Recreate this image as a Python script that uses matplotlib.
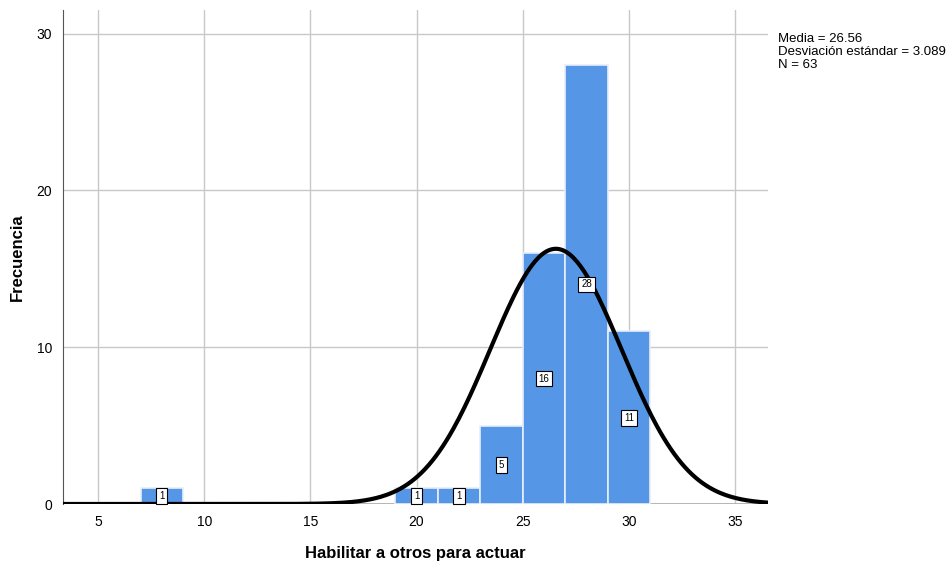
import numpy as np
import matplotlib.pyplot as plt

plt.rcParams['font.family'] = ['Liberation Sans', 'DejaVu Sans']

# histogram bins (left edge) and counts
bin_left = [7, 19, 21, 23, 25, 27, 29]
counts = [1, 1, 1, 5, 16, 28, 11]
bin_width = 2
media = 26.56
desv = 3.089
n_total = 63

fig = plt.figure(figsize=(9.5, 5.66), dpi=100)
ax = fig.add_axes([63 / 950, 1 - 504 / 566, (768 - 63) / 950, (504 - 10) / 566])

ax.set_xlim(3.35, 36.55)
ax.set_ylim(0, 31.5)

ax.grid(True, color='#c8c8c8', linewidth=1)
ax.set_axisbelow(True)
ax.axhline(0, color='#b0b0b0', linewidth=2, zorder=1)

ax.bar(bin_left, counts, width=bin_width, align='edge', color='#5596e6',
       edgecolor='#e8eefa', linewidth=1.2, zorder=2)

for x, c in zip(bin_left, counts):
    ax.text(x + bin_width / 2, c / 2, str(c), ha='center', va='center', fontsize=7,
            zorder=4, bbox=dict(boxstyle='square,pad=0.3', fc='white', ec='black', lw=0.8))

xs = np.linspace(3.35, 36.55, 400)
ys = n_total * bin_width / (desv * np.sqrt(2 * np.pi)) * np.exp(-0.5 * ((xs - media) / desv) ** 2)
ax.plot(xs, ys, color='black', linewidth=3, zorder=3)

ax.set_xticks([5, 10, 15, 20, 25, 30, 35])
ax.set_yticks([0, 10, 20, 30])
ax.tick_params(length=0, labelsize=10, pad=8)
for s in ['top', 'right', 'bottom']:
    ax.spines[s].set_visible(False)
ax.spines['left'].set_color('#555555')

ax.set_xlabel('Habilitar a otros para actuar', fontsize=12, fontweight='bold', labelpad=12)
ax.set_ylabel('Frecuencia', fontsize=12, fontweight='bold', labelpad=8)

fig.text(778 / 950, 1 - 33 / 566,
         'Media = %.2f\nDesviación estándar = %.3f\nN = %d' % (media, desv, n_total),
         fontsize=9.5, va='top', ha='left', linespacing=1.1)

fig.savefig('out.png', dpi=100)
